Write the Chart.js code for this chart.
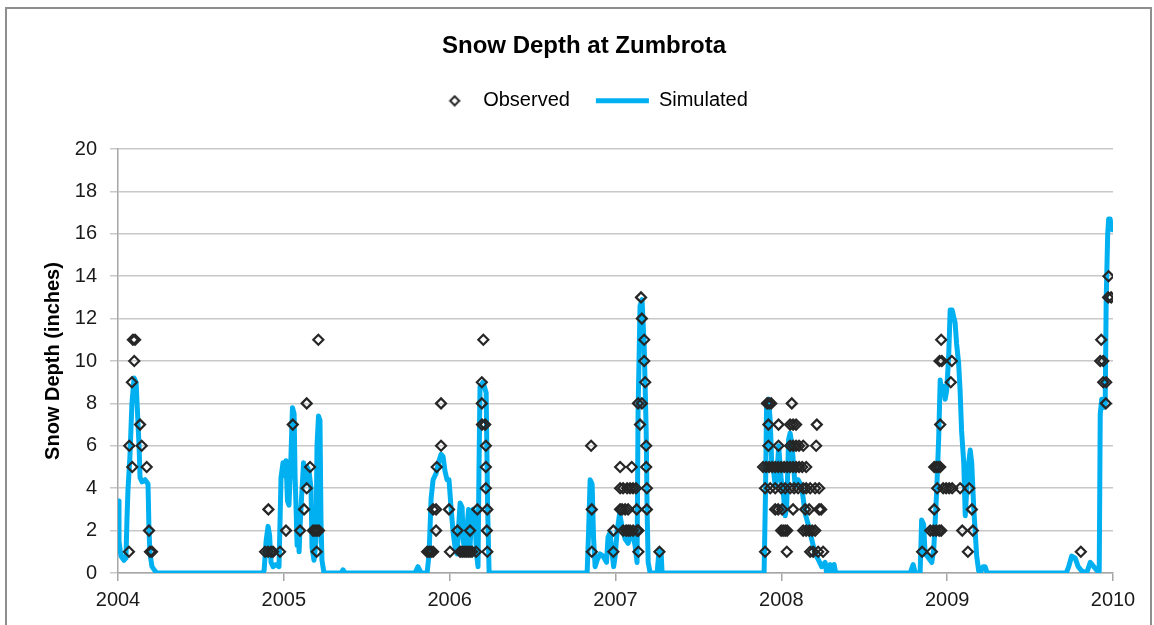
<!DOCTYPE html>
<html>
<head>
<meta charset="utf-8">
<script src="https://cdn.jsdelivr.net/npm/chart.js@4.4.0/dist/chart.umd.min.js"></script>
<style>
  html, body { margin: 0; padding: 0; background: #fff; overflow: hidden; }
  #frame { position: absolute; left: 5px; top: 7px; width: 1143px; height: 700px; border: 2px solid #8e8e8e; }
  #snowChart { position: absolute; left: 0; top: 0; }
</style>
</head>
<body>
<div id="frame"></div>
<canvas id="snowChart" width="1154" height="625"></canvas>
<script>
// [decimal year, inches]
const simulated = [
  // winter 2003-04
  [2004.000, 3.4], [2004.006, 1.5], [2004.018, 0.8], [2004.036, 0.6], [2004.048, 0.7], [2004.054, 2.5],
  [2004.060, 3.9], [2004.072, 5.5], [2004.084, 8.0], [2004.097, 9.2], [2004.109, 9.0], [2004.115, 8.0],
  [2004.127, 6.0], [2004.133, 4.5], [2004.145, 4.3], [2004.163, 4.4], [2004.181, 4.2], [2004.187, 2.0],
  [2004.193, 0.9], [2004.205, 0.3], [2004.223, 0.1], [2004.235, 0],
  // winter 2004-05
  [2004.869, 0], [2004.881, 0.1], [2004.893, 1.5], [2004.905, 2.2], [2004.914, 1.8], [2004.923, 0.5],
  [2004.935, 0.3], [2004.953, 0.4], [2004.971, 0.3], [2004.983, 4.5], [2004.995, 5.2], [2005.004, 4.6],
  [2005.013, 5.3], [2005.022, 3.4], [2005.031, 3.2], [2005.043, 5.5], [2005.052, 7.8], [2005.062, 7.5],
  [2005.068, 4.5], [2005.074, 3.0], [2005.080, 1.3], [2005.086, 2.5], [2005.092, 1.0], [2005.098, 2.2],
  [2005.110, 4.0], [2005.119, 5.2], [2005.128, 4.2], [2005.140, 5.0], [2005.152, 4.8], [2005.164, 4.0],
  [2005.170, 1.2], [2005.182, 0.6], [2005.194, 1.5], [2005.200, 6.0], [2005.209, 7.4], [2005.218, 7.2],
  [2005.224, 2.5], [2005.230, 0.6], [2005.242, 0], [2005.345, 0], [2005.357, 0.15], [2005.369, 0],
  // winter 2005-06
  [2005.791, 0], [2005.809, 0.3], [2005.828, 0], [2005.864, 0], [2005.876, 0.9], [2005.888, 3.5],
  [2005.900, 4.4], [2005.918, 4.7], [2005.936, 5.3], [2005.948, 5.6], [2005.960, 5.5], [2005.972, 4.8],
  [2005.984, 4.4], [2005.996, 4.4], [2006.008, 3.1], [2006.021, 1.9], [2006.033, 1.2], [2006.045, 0.9],
  [2006.051, 1.8], [2006.063, 3.3], [2006.075, 3.1], [2006.081, 1.6], [2006.093, 0.9], [2006.105, 2.2],
  [2006.114, 3.0], [2006.123, 1.2], [2006.132, 2.8], [2006.141, 3.0], [2006.153, 2.5], [2006.162, 0.9],
  [2006.171, 0.3], [2006.177, 5.0], [2006.183, 8.8], [2006.201, 9.0], [2006.220, 8.5], [2006.229, 3.0],
  [2006.238, 0],
  // winter 2006-07
  [2006.829, 0], [2006.838, 2.0], [2006.847, 4.4], [2006.859, 4.2], [2006.868, 1.6], [2006.877, 0.3],
  [2006.889, 0.6], [2006.907, 0.9], [2006.925, 0.8], [2006.946, 0.5], [2006.955, 1.7], [2006.967, 1.9],
  [2006.980, 0.9], [2006.989, 0.3], [2006.998, 0.8], [2007.010, 2.0], [2007.025, 2.8], [2007.037, 2.3],
  [2007.058, 1.6], [2007.076, 1.4], [2007.100, 2.0], [2007.118, 1.3], [2007.130, 0.5], [2007.136, 7.5],
  [2007.148, 12.6], [2007.160, 12.9], [2007.173, 10.7], [2007.185, 6.7], [2007.191, 2.8], [2007.197, 0.5],
  [2007.209, 0], [2007.251, 0], [2007.263, 1.1], [2007.275, 1.0], [2007.281, 0],
  // winter 2007-08
  [2007.896, 0], [2007.905, 4.0], [2007.911, 8.0], [2007.923, 8.2], [2007.933, 7.2], [2007.942, 5.2],
  [2007.951, 5.0], [2007.963, 4.1], [2007.972, 4.4], [2007.984, 6.0], [2007.999, 4.4], [2008.014, 3.6],
  [2008.023, 2.7], [2008.032, 3.1], [2008.044, 6.3], [2008.053, 6.6], [2008.065, 6.0], [2008.083, 4.1],
  [2008.101, 4.4], [2008.122, 4.1], [2008.144, 2.8], [2008.165, 2.2], [2008.183, 1.6], [2008.204, 0.9],
  [2008.225, 0.6], [2008.243, 0.3], [2008.264, 0.5], [2008.273, 0], [2008.294, 0.4], [2008.303, 0],
  [2008.318, 0.4], [2008.328, 0],
  // winter 2008-09
  [2008.777, 0], [2008.795, 0.4], [2008.807, 0], [2008.837, 0], [2008.846, 2.5], [2008.858, 2.3],
  [2008.867, 0.9], [2008.879, 0.8], [2008.898, 0.6], [2008.907, 0.5], [2008.919, 1.1], [2008.928, 2.5],
  [2008.937, 3.9], [2008.949, 6.4], [2008.958, 9.1], [2008.967, 8.6], [2008.979, 8.8], [2008.988, 8.2],
  [2008.997, 8.6], [2009.009, 10.2], [2009.018, 12.4], [2009.030, 12.4], [2009.039, 12.1], [2009.048, 11.8],
  [2009.057, 10.8], [2009.069, 9.9], [2009.078, 8.6], [2009.087, 6.7], [2009.100, 5.2], [2009.109, 2.7],
  [2009.118, 3.9], [2009.130, 5.2], [2009.139, 5.8], [2009.148, 5.2], [2009.160, 3.1], [2009.178, 0.8],
  [2009.190, 0.1], [2009.199, 0], [2009.217, 0.3], [2009.229, 0.3], [2009.241, 0],
  // winter 2009-10
  [2009.718, 0], [2009.733, 0.3], [2009.751, 0.8], [2009.772, 0.7], [2009.790, 0.3], [2009.811, 0.1],
  [2009.841, 0], [2009.863, 0.5], [2009.884, 0.3], [2009.905, 0.1], [2009.917, 0.1], [2009.923, 7.5],
  [2009.932, 8.2], [2009.941, 7.8], [2009.953, 8.0], [2009.959, 12.9], [2009.968, 16.0], [2009.974, 16.7],
  [2009.983, 16.7], [2009.989, 16.3], [2009.995, 16.2]
];

const observed = [
  // 2003-04
  [2004.090, 11], [2004.103, 11], [2004.098, 10], [2004.084, 9], [2004.133, 7], [2004.068, 6], [2004.143, 6],
  [2004.086, 5], [2004.173, 5], [2004.187, 2], [2004.066, 1], [2004.193, 1], [2004.205, 1],
  // 2004-05
  [2004.907, 3], [2004.887, 1], [2004.905, 1], [2004.923, 1], [2004.935, 1], [2004.977, 1], [2005.013, 2],
  [2005.054, 7], [2005.138, 8], [2005.208, 11], [2005.158, 5], [2005.138, 4], [2005.122, 3], [2005.098, 2],
  [2005.176, 2], [2005.188, 2], [2005.200, 2], [2005.212, 2], [2005.198, 1],
  // 2005-06
  [2006.203, 11], [2006.194, 9], [2006.194, 8], [2006.195, 7], [2006.214, 7], [2006.218, 6], [2006.218, 5],
  [2006.218, 4], [2005.948, 8], [2005.948, 6], [2005.922, 5], [2005.900, 3], [2005.918, 3], [2005.996, 3],
  [2006.167, 3], [2006.227, 3], [2005.918, 2], [2006.047, 2], [2006.123, 2], [2006.224, 2], [2005.864, 1],
  [2005.876, 1], [2005.888, 1], [2005.900, 1], [2006.002, 1], [2006.063, 1], [2006.075, 1], [2006.087, 1],
  [2006.099, 1], [2006.111, 1], [2006.123, 1], [2006.135, 1], [2006.159, 1], [2006.227, 1],
  // 2006-07
  [2007.154, 13], [2007.159, 12], [2007.173, 11], [2007.173, 10], [2007.179, 9], [2007.136, 8], [2007.159, 8],
  [2007.148, 7], [2007.185, 6], [2007.185, 5], [2007.189, 4], [2007.189, 3], [2007.128, 3], [2007.138, 2],
  [2007.138, 1], [2006.853, 6], [2006.857, 3], [2006.857, 1], [2006.987, 1], [2006.987, 2], [2007.028, 5],
  [2007.098, 5], [2007.028, 4], [2007.046, 4], [2007.070, 4], [2007.088, 4], [2007.106, 4], [2007.124, 4],
  [2007.028, 3], [2007.040, 3], [2007.058, 3], [2007.076, 3], [2007.046, 2], [2007.064, 2], [2007.076, 2],
  [2007.088, 2], [2007.106, 2], [2007.130, 2], [2007.265, 1],
  // 2007-08
  [2007.914, 8], [2007.926, 8], [2007.939, 8], [2008.063, 8],
  [2007.922, 7], [2007.983, 7], [2008.053, 7], [2008.071, 7], [2008.089, 7], [2008.214, 7],
  [2007.922, 6], [2007.983, 6], [2008.053, 6], [2008.071, 6], [2008.089, 6], [2008.107, 6], [2008.132, 6], [2008.210, 6],
  [2007.890, 5], [2007.908, 5], [2007.926, 5], [2007.945, 5], [2007.963, 5], [2007.981, 5], [2007.999, 5], [2008.017, 5],
  [2008.035, 5], [2008.053, 5], [2008.071, 5], [2008.089, 5], [2008.107, 5], [2008.126, 5], [2008.150, 5],
  [2007.902, 4], [2007.933, 4], [2007.963, 4], [2007.999, 4], [2008.023, 4], [2008.053, 4], [2008.077, 4],
  [2008.101, 4], [2008.132, 4], [2008.150, 4], [2008.174, 4], [2008.204, 4], [2008.228, 4],
  [2007.963, 3], [2007.981, 3], [2008.005, 3], [2008.071, 3], [2008.144, 3], [2008.168, 3], [2008.228, 3], [2008.240, 3],
  [2007.999, 2], [2008.011, 2], [2008.023, 2], [2008.035, 2], [2008.132, 2], [2008.150, 2], [2008.168, 2], [2008.186, 2], [2008.204, 2],
  [2007.902, 1], [2008.033, 1], [2008.174, 1], [2008.192, 1], [2008.222, 1], [2008.252, 1],
  // 2008-09
  [2008.964, 11], [2008.954, 10], [2008.968, 10], [2009.028, 10], [2009.022, 9], [2008.958, 7], [2008.922, 5],
  [2008.934, 5], [2008.946, 5], [2008.958, 5], [2008.940, 4], [2008.976, 4], [2008.994, 4], [2009.012, 4],
  [2009.030, 4], [2009.078, 4], [2009.133, 4], [2008.922, 3], [2009.149, 3], [2008.898, 2], [2008.916, 2],
  [2008.934, 2], [2008.952, 2], [2008.964, 2], [2009.091, 2], [2009.155, 2], [2008.849, 1], [2008.908, 1],
  [2009.125, 1],
  // 2009-10
  [2009.806, 1], [2009.973, 14], [2009.971, 13], [2009.989, 13], [2009.929, 11], [2009.923, 10], [2009.941, 10],
  [2009.941, 9], [2009.959, 9], [2009.957, 8]
];

const yearRange = [2004, 2010];
const depthRange = [0, 20];

const FONT = "'Liberation Sans', Arial, sans-serif";
const BLUE = '#00B0F0';
const DARK = '#262626';
Chart.defaults.font.family = FONT;
Chart.defaults.color = '#1a1a1a';

const toXY = arr => arr.map(([x, y]) => ({ x: x, y: y }));

// small diamond for the legend (rectRot gets stretched by pointStyleWidth),
// drawn right of centre so it sits closer to its label
const legendDiamond = document.createElement('canvas');
legendDiamond.width = 28;
legendDiamond.height = 12;
(function () {
  const c = legendDiamond.getContext('2d');
  c.strokeStyle = DARK;
  c.lineWidth = 2;
  c.beginPath();
  c.moveTo(22, 1.5); c.lineTo(26.5, 6); c.lineTo(22, 10.5); c.lineTo(17.5, 6);
  c.closePath();
  c.stroke();
})();

new Chart(document.getElementById('snowChart'), {
  type: 'scatter',
  data: {
    datasets: [
      {
        label: 'Observed',
        data: toXY(observed),
        showLine: false,
        pointStyle: 'rectRot',
        pointRadius: 5,
        pointHoverRadius: 5,
        borderColor: DARK,
        backgroundColor: 'rgba(0,0,0,0)',
        borderWidth: 2.2
      },
      {
        label: 'Simulated',
        type: 'line',
        data: toXY(simulated),
        borderColor: BLUE,
        backgroundColor: BLUE,
        borderWidth: 5,
        pointRadius: 0,
        tension: 0,
        borderJoinStyle: 'round',
        borderCapStyle: 'round'
      }
    ]
  },
  options: {
    responsive: false,
    animation: false,
    layout: { padding: { top: 8, left: 55, right: 41, bottom: 0 } },
    plugins: {
      title: {
        display: true,
        text: 'Snow Depth at Zumbrota',
        color: '#000',
        font: { size: 24, weight: 'bold' },
        padding: { top: 24, bottom: 4 }
      },
      legend: {
        labels: {
          usePointStyle: true,
          pointStyleWidth: 53,
          boxHeight: 6,
          padding: 26,
          color: '#000',
          font: { size: 20 },
          generateLabels: () => [
            { text: 'Observed', pointStyle: legendDiamond, fillStyle: 'rgba(0,0,0,0)', strokeStyle: DARK,
              lineWidth: 2, hidden: false, datasetIndex: 0, rotation: 0 },
            { text: 'Simulated', pointStyle: 'line', fillStyle: BLUE, strokeStyle: BLUE,
              lineWidth: 5, hidden: false, datasetIndex: 1, rotation: 0 }
          ]
        }
      },
      // empty spacer between legend and plot
      subtitle: { display: true, text: ' ', weight: 500, font: { size: 1 }, padding: { top: 11, bottom: 16 } },
      tooltip: { enabled: false }
    },
    scales: {
      x: {
        type: 'linear',
        min: yearRange[0],
        max: yearRange[1],
        ticks: { stepSize: 1, callback: v => String(v), font: { size: 20 }, padding: 7, maxRotation: 0 },
        grid: { drawOnChartArea: false, drawTicks: true, tickLength: 8, color: '#a6a6a6', lineWidth: 1.5 },
        border: { color: '#a6a6a6', width: 1.5 },
        afterFit: s => { s.height = 52; }
      },
      y: {
        min: depthRange[0],
        max: depthRange[1],
        ticks: { stepSize: 2, font: { size: 20 }, padding: 13 },
        grid: { color: '#c8c8c8', lineWidth: 1.5, tickLength: 8 },
        border: { color: '#a6a6a6', width: 1.5 },
        title: {
          display: true,
          text: 'Snow Depth (inches)',
          color: '#000',
          font: { size: 20, weight: 'bold' },
          padding: { top: -14, bottom: 0 }
        },
        afterFit: s => { s.width = 63; }
      }
    }
  }
});
</script>
</body>
</html>
